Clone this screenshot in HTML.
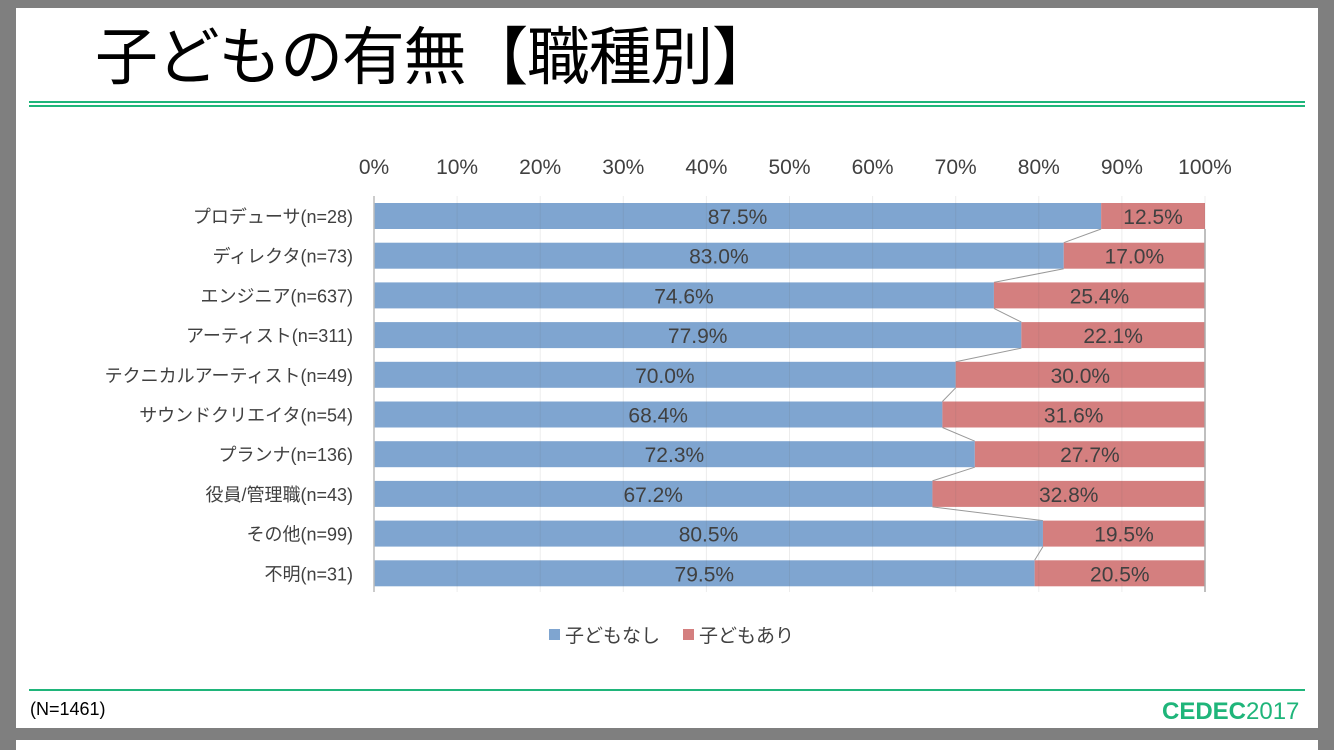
<!DOCTYPE html>
<html><head><meta charset="utf-8"><style>
body{margin:0;width:1334px;height:750px;background:#7f7f7f;overflow:hidden;font-family:"Liberation Sans","Noto Sans CJK JP",sans-serif}
</style></head><body>
<svg width="1334" height="750" xmlns="http://www.w3.org/2000/svg" style="position:absolute;left:0;top:0">
<rect x="16" y="8" width="1302" height="720" fill="#fff"/>
<rect x="16" y="740" width="1302" height="10" fill="#fff"/>
<text x="95" y="79" font-size="63" fill="#000" font-family="Noto Sans CJK JP,sans-serif" textLength="680">子どもの有無【職種別】</text>
<rect x="29" y="101" width="1276" height="2" fill="#1fb57a"/>
<rect x="29" y="105" width="1276" height="2" fill="#1fb57a"/>
<rect x="29" y="689" width="1276" height="2" fill="#1fb57a"/>
<text x="30" y="715" font-size="18" fill="#000">(N=1461)</text>
<text x="1162" y="719" font-size="24" fill="#1fb57a" font-weight="bold" font-family="Liberation Sans,sans-serif">CEDEC<tspan font-weight="normal">2017</tspan></text>
<g id="chart"></g>
<g font-size="19" fill="#404040">
<rect x="549" y="629" width="11" height="11" fill="#7fa5d0"/><text x="565" y="642">子どもなし</text>
<rect x="683" y="629" width="11" height="11" fill="#d47f7f"/><text x="699" y="642">子どもあり</text>
</g>
</svg>
<script>
const x0=374,w=831;
const names=["プロデューサ(n=28)","ディレクタ(n=73)","エンジニア(n=637)","アーティスト(n=311)","テクニカルアーティスト(n=49)","サウンドクリエイタ(n=54)","プランナ(n=136)","役員/管理職(n=43)","その他(n=99)","不明(n=31)"];
const v=[87.5,83.0,74.6,77.9,70.0,68.4,72.3,67.2,80.5,79.5];
let s="";
for(let i=0;i<=10;i++){s+=`<text x="${x0+w*i/10}" y="174" font-size="21" fill="#404040" text-anchor="middle">${i*10}%</text>`;}
for(let i=0;i<10;i++){
 const y=203+i*39.7,h=26,bx=x0+w*v[i]/100;
 s+=`<rect x="${x0}" y="${y}" width="${bx-x0}" height="${h}" fill="#7fa5d0"/>`;
 s+=`<rect x="${bx}" y="${y}" width="${x0+w-bx}" height="${h}" fill="#d47f7f"/>`;
 s+=`<text x="${(x0+bx)/2}" y="${y+21}" font-size="21" fill="#404040" text-anchor="middle">${v[i].toFixed(1)}%</text>`;
 s+=`<text x="${(bx+x0+w)/2}" y="${y+21}" font-size="21" fill="#404040" text-anchor="middle">${(100-v[i]).toFixed(1)}%</text>`;
 s+=`<text x="353" y="${y+20}" font-size="18" fill="#404040" text-anchor="end">${names[i]}</text>`;
 if(i<9){const nx=x0+w*v[i+1]/100;s+=`<line x1="${bx}" y1="${y+h}" x2="${nx}" y2="${y+39.7}" stroke="#999" stroke-width="1"/>`;}
}
for(let i=1;i<=10;i++){const x=x0+w*i/10;s+=`<line x1="${x}" y1="196" x2="${x}" y2="592" stroke="rgba(100,100,100,0.12)" stroke-width="1"/>`;}
s+=`<line x1="${x0}" y1="196" x2="${x0}" y2="592" stroke="#bbb" stroke-width="1.5"/>`;
s+=`<line x1="${x0+w}" y1="229" x2="${x0+w}" y2="592" stroke="#aaa" stroke-width="1.5"/>`;
document.getElementById("chart").innerHTML=s;
</script>
</body></html>
